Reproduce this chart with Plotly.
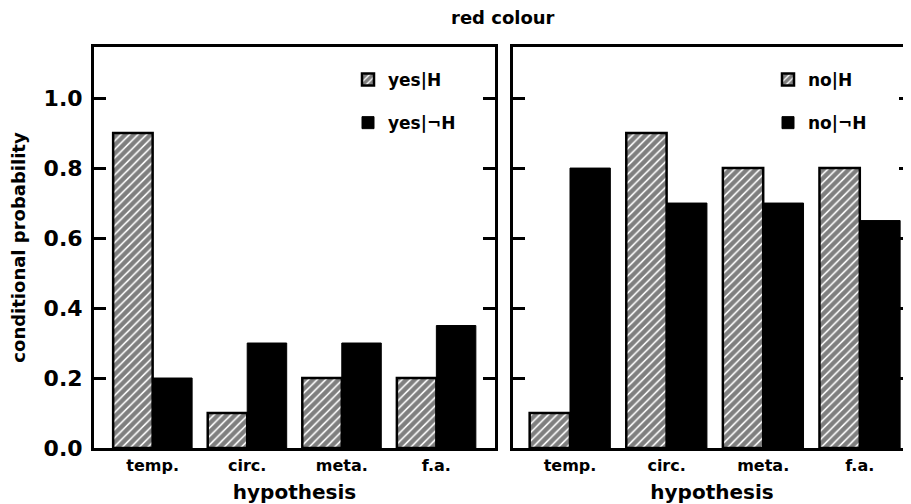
import plotly.graph_objects as go

# ---- data ----
categories = ["temp.", "circ.", "meta.", "f.a."]
yes_given_H = [0.9, 0.1, 0.2, 0.2]
yes_given_notH = [0.2, 0.3, 0.3, 0.35]
no_given_H = [0.1, 0.9, 0.8, 0.8]
no_given_notH = [0.8, 0.7, 0.7, 0.65]
y_tick_vals = [0.0, 0.2, 0.4, 0.6, 0.8, 1.0]
y_tick_text = ["0.0", "0.2", "0.4", "0.6", "0.8", "1.0"]

FONT = "DejaVu Sans"
# the page body adds an 8px margin, so the figure is drawn 8px smaller
W, H = 903, 496

hatch = dict(color="white",
             pattern=dict(shape="/", fgcolor="black", bgcolor="white", size=6, solidity=0.74),
             line=dict(color="black", width=2.5))
solid = dict(color="black", line=dict(color="black", width=1))

fig = go.Figure()
fig.add_trace(go.Bar(x=categories, y=yes_given_H, name="yes|H", marker=hatch,
                     xaxis="x", yaxis="y", legend="legend", legendgroup="a"))
fig.add_trace(go.Bar(x=categories, y=yes_given_notH, name="yes|¬H", marker=solid,
                     xaxis="x", yaxis="y", legend="legend", legendgroup="b"))
fig.add_trace(go.Bar(x=categories, y=no_given_H, name="no|H", marker=hatch,
                     xaxis="x2", yaxis="y2", legend="legend2", legendgroup="c"))
fig.add_trace(go.Bar(x=categories, y=no_given_notH, name="no|¬H", marker=solid,
                     xaxis="x2", yaxis="y2", legend="legend2", legendgroup="d"))

ydom = [1 - 440 / H, 1 - 39 / H]
yr = [0, 1.146]

common_x = dict(showline=True, linecolor="black", linewidth=3, mirror=True, ticks="",
                automargin=False, ticklabelstandoff=1,
                tickfont=dict(family=FONT, size=16, weight="bold", color="black"),
                showgrid=False, zeroline=False,
                title=dict(text="hypothesis", font=dict(family=FONT, size=20, weight="bold", color="black"),
                           standoff=15))
common_y = dict(showline=True, linecolor="black", linewidth=3, mirror="ticks", ticks="inside",
                ticklen=12, tickwidth=3, tickcolor="black", range=yr, domain=ydom,
                automargin=False,
                tickvals=y_tick_vals, ticktext=y_tick_text, showgrid=False, zeroline=False,
                tickfont=dict(family=FONT, size=22, weight="bold", color="black"))

fig.update_layout(
    width=W, height=H,
    margin=dict(l=0, r=0, t=0, b=0, autoexpand=False),
    paper_bgcolor="white", plot_bgcolor="white",
    barmode="group", bargap=0.165, bargroupgap=0.0,
    xaxis=dict(common_x, domain=[86 / W, 487 / W], range=[-0.62, 3.62], anchor="y"),
    xaxis2=dict(common_x, domain=[505 / W, 1.0], range=[-0.59, 3.53], anchor="y2"),
    yaxis=dict(common_y, anchor="x", showticklabels=True, ticklabelstandoff=4,
               title=dict(text="conditional probability",
                          font=dict(family=FONT, size=18, weight="bold", color="black"),
                          standoff=16)),
    yaxis2=dict(common_y, anchor="x2", showticklabels=False),
    legend=dict(x=340 / W, y=1 - 54 / H, xanchor="left", yanchor="top",
                font=dict(family=FONT, size=17, weight="bold", color="black"),
                tracegroupgap=18, bgcolor="rgba(0,0,0,0)"),
    legend2=dict(x=760 / W, y=1 - 54 / H, xanchor="left", yanchor="top",
                 font=dict(family=FONT, size=17, weight="bold", color="black"),
                 tracegroupgap=18, bgcolor="rgba(0,0,0,0)"),
    annotations=[dict(text="red colour", x=495 / W, y=1 - 9 / H, xref="paper", yref="paper",
                      showarrow=False, xanchor="center", yanchor="middle",
                      font=dict(family=FONT, size=18, weight="bold", color="black"))],
    showlegend=True,
)

fig.write_html("out.html")
